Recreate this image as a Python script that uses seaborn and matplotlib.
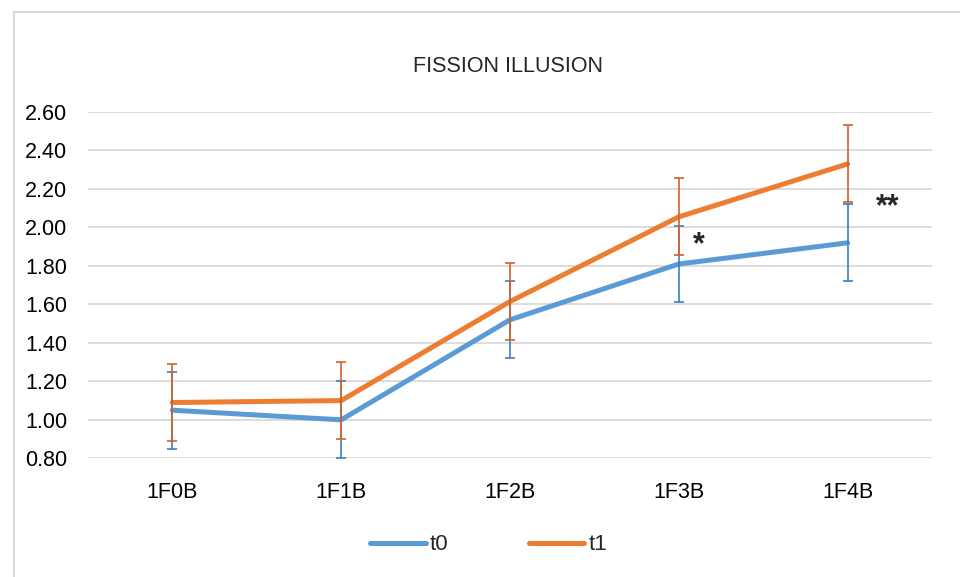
import pandas as pd
import matplotlib.pyplot as plt
import seaborn as sns
from matplotlib.patches import Rectangle

# values
categories = ["1F0B", "1F1B", "1F2B", "1F3B", "1F4B"]
t0 = [1.05, 1.00, 1.52, 1.81, 1.92]
t1 = [1.09, 1.10, 1.615, 2.055, 2.33]
t0_err = [0.20, 0.20, 0.20, 0.20, 0.20]
t1_err = [0.20, 0.20, 0.20, 0.20, 0.20]
y_ticks = [0.80, 1.00, 1.20, 1.40, 1.60, 1.80, 2.00, 2.20, 2.40, 2.60]

line_colors = {"t0": "#5B9BD5", "t1": "#ED7D31"}
err_colors = {"t0": "#3A7FC1", "t1": "#D0632A"}

df = pd.DataFrame({
    "cond": categories * 2,
    "pos": list(range(len(categories))) * 2,
    "value": t0 + t1,
    "err": t0_err + t1_err,
    "series": ["t0"] * len(t0) + ["t1"] * len(t1),
})

sns.set_theme(style="white")
plt.rcParams["font.family"] = ["Liberation Sans", "DejaVu Sans"]

fig = plt.figure(figsize=(9.6, 5.77), dpi=100)
ax = fig.add_axes([88 / 960, 1 - 458.3 / 577, 844 / 960, 346.3 / 577])

sns.lineplot(data=df, x="pos", y="value", hue="series", palette=line_colors,
             linewidth=3.6, ax=ax, legend=True, solid_capstyle="round")

for name, grp in df.groupby("series"):
    ax.errorbar(grp["pos"], grp["value"], yerr=grp["err"], fmt="none",
                ecolor=err_colors[name], elinewidth=1.2, capsize=3.4,
                capthick=1.2, zorder=4, clip_on=True)

ax.set_xlim(-0.5, len(categories) - 0.5)
ax.set_ylim(0.80, 2.60)
ax.set_xticks(range(len(categories)))
ax.set_xticklabels(categories)
ax.set_yticks(y_ticks)
ax.set_yticklabels([f"{v:.2f}" for v in y_ticks])
ax.tick_params(axis="both", labelsize=15.5, colors="#000000", length=0)
ax.tick_params(axis="y", pad=15)
ax.tick_params(axis="x", pad=17)
ax.yaxis.grid(True, color="#d9d9d9", linewidth=1.3)
ax.set_axisbelow(True)
for spine in ax.spines.values():
    spine.set_visible(False)
ax.set_xlabel("")
ax.set_ylabel("")

# significance markers
ax.text(3.12, 1.905, "*", fontsize=22, fontweight="bold", ha="center", va="center")
ax.text(4.24, 2.105, "**", fontsize=22, fontweight="bold", ha="center", va="center")

fig.text(0.529, 1 - 66 / 577, "FISSION ILLUSION", fontsize=15.5, ha="center", va="center")

handles, labels = ax.get_legend_handles_labels()
ax.get_legend().remove()
leg = fig.legend(handles, labels, loc="center", bbox_to_anchor=(0.509, 1 - 545 / 577),
                 ncol=2, frameon=False, fontsize=16, handlelength=2.5,
                 handletextpad=0.2, columnspacing=3.6)
for h in leg.get_lines():
    h.set_linewidth(3.6)

# chart frame
fig.add_artist(Rectangle((14 / 960, -0.05), 1.0, 1 - 12 / 577 + 0.05, transform=fig.transFigure,
                         fill=False, edgecolor="#d9d9d9", linewidth=1.5))

fig.savefig("out.png", dpi=100)
